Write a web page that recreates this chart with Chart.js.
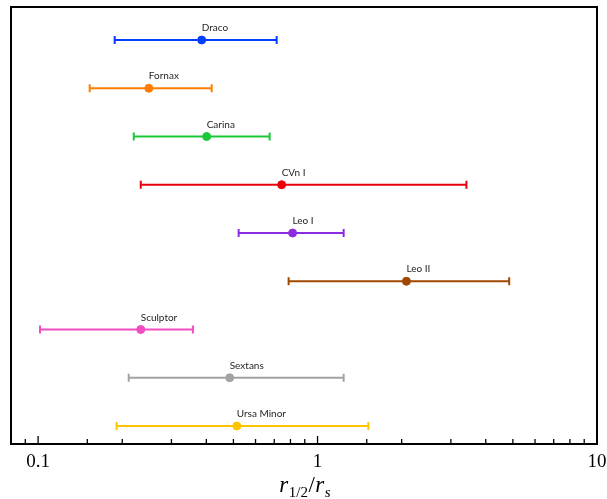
<!DOCTYPE html>
<html>
<head>
<meta charset="utf-8">
<script src="https://cdn.jsdelivr.net/npm/chart.js@4"></script>
<style>
  html, body { margin: 0; padding: 0; background: #fff; }
  #wrap { width: 607px; height: 499px; }
</style>
</head>
<body>
<div id="wrap"><canvas id="chart" width="607" height="499"></canvas></div>
<script>
// data
const galaxies = ['Draco', 'Fornax', 'Carina', 'CVn I', 'Leo I', 'Leo II', 'Sculptor', 'Sextans', 'Ursa Minor'];
const centers = [0.385, 0.249, 0.401, 0.744, 0.814, 2.08, 0.233, 0.485, 0.514];
const lowers = [0.188, 0.153, 0.220, 0.233, 0.522, 0.788, 0.1016, 0.211, 0.191];
const uppers = [0.714, 0.418, 0.674, 3.41, 1.24, 4.85, 0.358, 1.24, 1.52];
const colors = ['#023eff', '#ff7c00', '#1ac938', '#e8000b', '#8b2be2', '#9f4800', '#f14cc1', '#a3a3a3', '#ffc400'];
const tickLabels = ['0.1', '1', '10'];

const datasets = [];
galaxies.forEach((g, i) => {
    // error bar with caps
    datasets.push({
        type: 'line',
        label: g + ' range',
        data: [{x: lowers[i], y: i}, {x: uppers[i], y: i}],
        borderColor: colors[i],
        backgroundColor: colors[i],
        borderWidth: 2,
        pointStyle: 'line',
        rotation: 90,
        pointRadius: 4,
        pointBorderWidth: 2,
        pointHoverRadius: 4
    });
    datasets.push({
        type: 'scatter',
        label: g,
        data: [{x: centers[i], y: i}],
        backgroundColor: colors[i],
        borderColor: colors[i],
        pointRadius: 4,
        pointHoverRadius: 4
    });
});

const framePlugin = {
    id: 'frame',
    afterDatasetsDraw(chart) {
        const {ctx, chartArea: a, scales: {x, y}} = chart;
        ctx.save();
        // galaxy names
        ctx.font = '10px Lato';
        ctx.fillStyle = '#262626';
        ctx.textAlign = 'left';
        ctx.textBaseline = 'bottom';
        galaxies.forEach((g, i) => {
            ctx.fillText(g, x.getPixelForValue(centers[i]), y.getPixelForValue(i) - 7);
        });
        // inward ticks
        ctx.strokeStyle = '#000';
        ctx.lineWidth = 1.3;
        x.ticks.forEach(t => {
            const lg = Math.log10(t.value);
            const major = Math.abs(lg - Math.round(lg)) < 1e-6;
            const px = x.getPixelForValue(t.value);
            if (px <= a.left + 1 || px >= a.right - 1) return;
            ctx.beginPath();
            ctx.moveTo(px, a.bottom);
            ctx.lineTo(px, a.bottom - (major ? 8 : 5));
            ctx.stroke();
        });
        // frame
        ctx.lineWidth = 2;
        ctx.strokeRect(a.left, a.top, a.right - a.left, a.bottom - a.top);
        // axis title r_{1/2}/r_s
        const big = 'italic 23px "Liberation Serif"';
        const small = '15px "Liberation Serif"';
        const smallIt = 'italic 15px "Liberation Serif"';
        const parts = [
            {t: 'r', f: big, dy: 0},
            {t: '1/2', f: small, dy: 5},
            {t: '/', f: '23px "Liberation Serif"', dy: 0},
            {t: 'r', f: big, dy: 0},
            {t: 's', f: smallIt, dy: 5}
        ];
        let w = 0;
        parts.forEach(p => { ctx.font = p.f; p.w = ctx.measureText(p.t).width; w += p.w; });
        let cx = 304 - w / 2;
        ctx.fillStyle = '#000';
        ctx.textBaseline = 'alphabetic';
        parts.forEach(p => {
            ctx.font = p.f;
            ctx.fillText(p.t, cx, 492 + p.dy);
            cx += p.w + 0.5;
        });
        ctx.restore();
    }
};

new Chart(document.getElementById('chart'), {
    data: {datasets: datasets},
    options: {
        responsive: false,
        animation: false,
        layout: {padding: {left: 11, top: 7, right: 10, bottom: 0}},
        scales: {
            x: {
                type: 'logarithmic',
                min: 0.08,
                max: 10,
                afterFit(scale) {
                    scale.height = 55;
                    scale.paddingLeft = 0;
                    scale.paddingRight = 0;
                },
                grid: {display: false, drawTicks: false},
                border: {display: false},
                ticks: {
                    autoSkip: false,
                    maxRotation: 0,
                    padding: 7,
                    color: '#000',
                    font: {family: 'Liberation Serif', size: 19},
                    callback(v) {
                        const s = String(Math.round(v * 100) / 100);
                        return tickLabels.includes(s) ? s : '';
                    }
                }
            },
            y: {
                type: 'linear',
                reverse: true,
                min: -0.684,
                max: 8.373,
                display: false
            }
        },
        plugins: {
            legend: {display: false},
            tooltip: {enabled: false}
        }
    },
    plugins: [framePlugin]
});
</script>
</body>
</html>
